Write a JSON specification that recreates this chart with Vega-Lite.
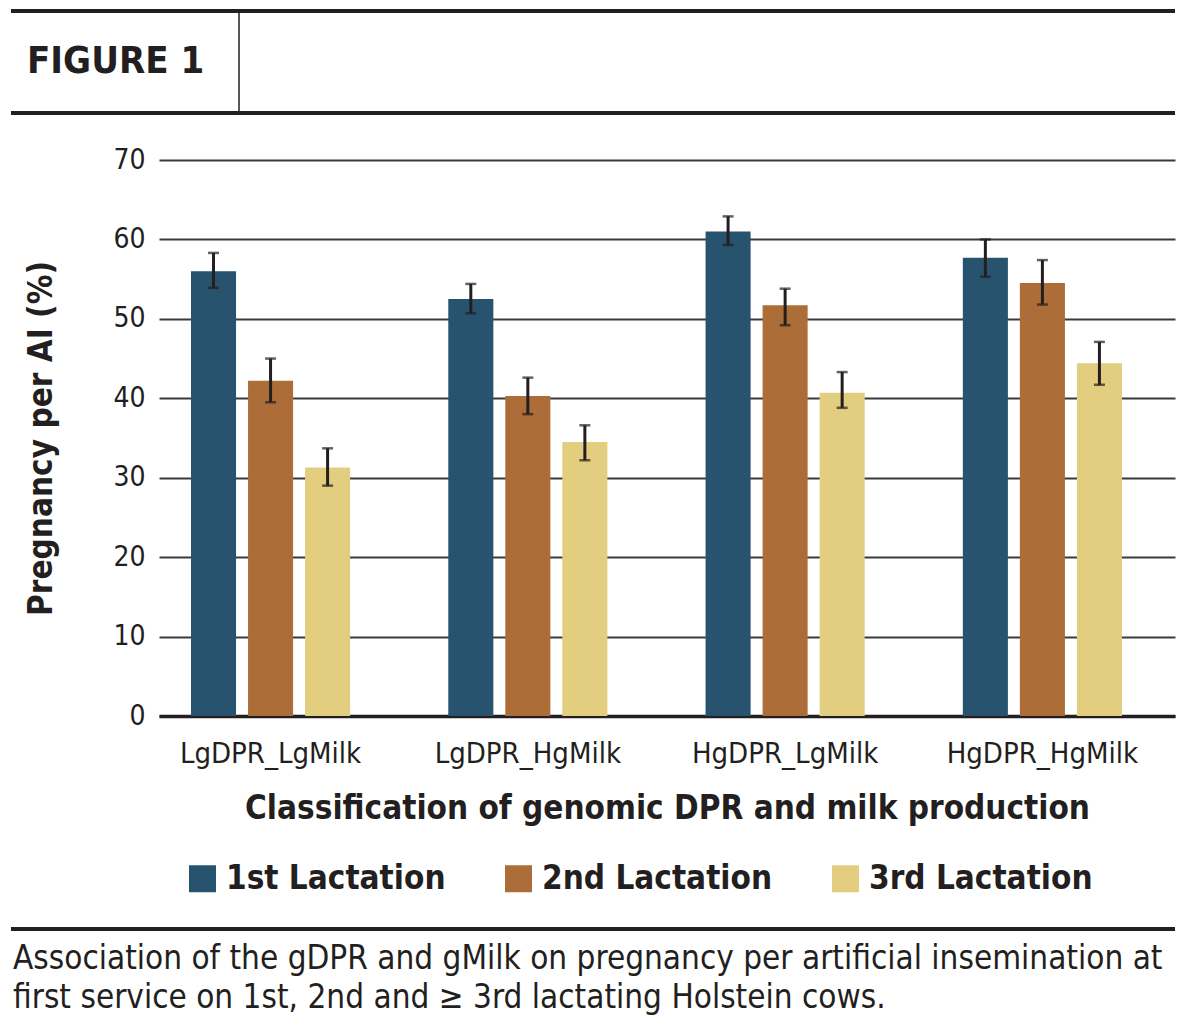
{
  "$schema": "https://vega.github.io/schema/vega-lite/v6.json",
  "padding": {"left": 9, "top": 9, "right": 24, "bottom": 0},
  "background": "white",
  "spacing": 0,
  "config": {
    "font": "'DejaVu Sans Condensed', 'Liberation Sans', sans-serif",
    "view": {"stroke": null}
  },
  "resolve": {"legend": {"color": "independent"}, "scale": {"x": "independent", "y": "independent", "color": "independent"}},
  "vconcat": [
    {
      "width": 1016,
      "height": 135,
      "data": {"values": [{"label": "FIGURE 1"}]},
      "layer": [
        {"mark": {"type": "rule", "strokeWidth": 4, "color": "#231f20"},
         "encoding": {"x": {"datum": -148, "type": "quantitative", "scale": {"domain": [0, 1016], "nice": false, "zero": false}, "axis": null}, "x2": {"datum": 1016}, "y": {"datum": 0, "type": "quantitative", "scale": {"domain": [0, 135], "reverse": true, "nice": false}, "axis": null}}},
        {"mark": {"type": "rule", "strokeWidth": 4, "color": "#231f20"},
         "encoding": {"x": {"datum": -148, "type": "quantitative", "scale": {"domain": [0, 1016], "nice": false, "zero": false}, "axis": null}, "x2": {"datum": 1016}, "y": {"datum": 102, "type": "quantitative", "scale": {"domain": [0, 135], "reverse": true, "nice": false}, "axis": null}}},
        {"mark": {"type": "rule", "strokeWidth": 1.5, "color": "#231f20"},
         "encoding": {"x": {"datum": 80, "type": "quantitative", "scale": {"domain": [0, 1016], "nice": false, "zero": false}, "axis": null}, "y": {"datum": 0, "type": "quantitative", "scale": {"domain": [0, 135], "reverse": true, "nice": false}, "axis": null}, "y2": {"datum": 102}}},
        {"mark": {"type": "text", "fontSize": 38, "fontWeight": "bold", "align": "left", "baseline": "middle", "color": "#231f20"},
         "encoding": {"text": {"field": "label"}, "x": {"datum": -132, "type": "quantitative", "scale": {"domain": [0, 1016], "nice": false, "zero": false}, "axis": null}, "y": {"datum": 51, "type": "quantitative", "scale": {"domain": [0, 135], "reverse": true, "nice": false}, "axis": null}}}
      ]
    },
    {
      "width": 1016,
      "height": 556,
      "data": {"values": [
        {"group": "LgDPR_LgMilk", "lact": "1st Lactation", "value": 56.0, "lo": 53.9, "hi": 58.3},
        {"group": "LgDPR_LgMilk", "lact": "2nd Lactation", "value": 42.2, "lo": 39.5, "hi": 45.0},
        {"group": "LgDPR_LgMilk", "lact": "3rd Lactation", "value": 31.3, "lo": 29.0, "hi": 33.7},
        {"group": "LgDPR_HgMilk", "lact": "1st Lactation", "value": 52.5, "lo": 50.7, "hi": 54.4},
        {"group": "LgDPR_HgMilk", "lact": "2nd Lactation", "value": 40.3, "lo": 38.0, "hi": 42.6},
        {"group": "LgDPR_HgMilk", "lact": "3rd Lactation", "value": 34.5, "lo": 32.2, "hi": 36.6},
        {"group": "HgDPR_LgMilk", "lact": "1st Lactation", "value": 61.0, "lo": 59.3, "hi": 62.9},
        {"group": "HgDPR_LgMilk", "lact": "2nd Lactation", "value": 51.7, "lo": 49.2, "hi": 53.8},
        {"group": "HgDPR_LgMilk", "lact": "3rd Lactation", "value": 40.7, "lo": 38.8, "hi": 43.3},
        {"group": "HgDPR_HgMilk", "lact": "1st Lactation", "value": 57.7, "lo": 55.3, "hi": 60.0},
        {"group": "HgDPR_HgMilk", "lact": "2nd Lactation", "value": 54.5, "lo": 51.8, "hi": 57.4},
        {"group": "HgDPR_HgMilk", "lact": "3rd Lactation", "value": 44.4, "lo": 41.7, "hi": 47.1}
      ]},
      "encoding": {
        "x": {
          "field": "group", "type": "nominal",
          "sort": ["LgDPR_LgMilk", "LgDPR_HgMilk", "HgDPR_LgMilk", "HgDPR_HgMilk"],
          "scale": {"paddingInner": 0.335, "paddingOuter": 0.142, "align": 0.356},
          "title": "Classification of genomic DPR and milk production",
          "axis": {
            "labelAngle": 0, "labelFontSize": 29, "labelColor": "#231f20", "labelPadding": 23, "labelLimit": 400,
            "ticks": false, "domain": true, "domainColor": "#231f20", "domainWidth": 3.5,
            "titleFontSize": 33, "titleFontWeight": "bold", "titleColor": "#231f20", "titlePadding": 24
          }
        },
        "xOffset": {
          "field": "lact", "type": "nominal",
          "sort": ["1st Lactation", "2nd Lactation", "3rd Lactation"],
          "scale": {"paddingInner": 0.21, "paddingOuter": 0.105}
        }
      },
      "layer": [
        {
          "mark": {"type": "bar"},
          "encoding": {
            "y": {
              "field": "value", "type": "quantitative",
              "scale": {"domain": [0, 70]},
              "title": "Pregnancy per AI (%)",
              "axis": {
                "values": [0, 10, 20, 30, 40, 50, 60, 70],
                "grid": true, "gridColor": "#3a3a3a", "gridWidth": 2,
                "domain": false, "ticks": false,
                "labelFontSize": 28, "labelColor": "#231f20", "labelPadding": 14,
                "titleFontSize": 33, "titleFontWeight": "bold", "titleColor": "#231f20", "titlePadding": 54
              }
            },
            "color": {
              "field": "lact", "type": "nominal",
              "sort": ["1st Lactation", "2nd Lactation", "3rd Lactation"],
              "scale": {"domain": ["1st Lactation", "2nd Lactation", "3rd Lactation"], "range": ["#28536f", "#ad6d38", "#e3cd7e"]},
              "legend": {
                "title": null, "orient": "none", "direction": "horizontal",
                "legendX": 27, "legendY": 702,
                "symbolType": "square", "symbolSize": 729, "symbolStrokeWidth": 0, "symbolOpacity": 1,
                "labelFontSize": 33, "labelFontWeight": "bold", "labelColor": "#231f20", "labelOffset": 7,
                "columnPadding": 56, "labelLimit": 400
              }
            }
          }
        },
        {
          "mark": {"type": "rule", "color": "#231f20", "strokeWidth": 3},
          "encoding": {
            "y": {"field": "lo", "type": "quantitative"},
            "y2": {"field": "hi"}
          }
        },
        {
          "mark": {"type": "tick", "color": "#231f20", "thickness": 2.5, "size": 11, "orient": "horizontal"},
          "encoding": {"y": {"field": "lo", "type": "quantitative"}}
        },
        {
          "mark": {"type": "tick", "color": "#231f20", "thickness": 2.5, "size": 11, "orient": "horizontal"},
          "encoding": {"y": {"field": "hi", "type": "quantitative"}}
        }
      ]
    },
    {
      "width": 1016,
      "height": 121,
      "data": {"values": [{"line1": "Association of the gDPR and gMilk on pregnancy per artificial insemination at", "line2": "first service on 1st, 2nd and \u2265 3rd lactating Holstein cows."}]},
      "layer": [
        {"mark": {"type": "rule", "strokeWidth": 4, "color": "#231f20"},
         "encoding": {"x": {"datum": -148, "type": "quantitative", "scale": {"domain": [0, 1016], "nice": false, "zero": false}, "axis": null}, "x2": {"datum": 1016}, "y": {"datum": 33, "type": "quantitative", "scale": {"domain": [0, 121], "reverse": true, "nice": false}, "axis": null}}},
        {"mark": {"type": "text", "fontSize": 33, "align": "left", "baseline": "middle", "color": "#231f20"},
         "encoding": {"text": {"field": "line1"}, "x": {"datum": -146, "type": "quantitative", "scale": {"domain": [0, 1016], "nice": false, "zero": false}, "axis": null}, "y": {"datum": 63, "type": "quantitative", "scale": {"domain": [0, 121], "reverse": true, "nice": false}, "axis": null}}},
        {"mark": {"type": "text", "fontSize": 33, "align": "left", "baseline": "middle", "color": "#231f20"},
         "encoding": {"text": {"field": "line2"}, "x": {"datum": -146, "type": "quantitative", "scale": {"domain": [0, 1016], "nice": false, "zero": false}, "axis": null}, "y": {"datum": 102, "type": "quantitative", "scale": {"domain": [0, 121], "reverse": true, "nice": false}, "axis": null}}}
      ]
    }
  ]
}
